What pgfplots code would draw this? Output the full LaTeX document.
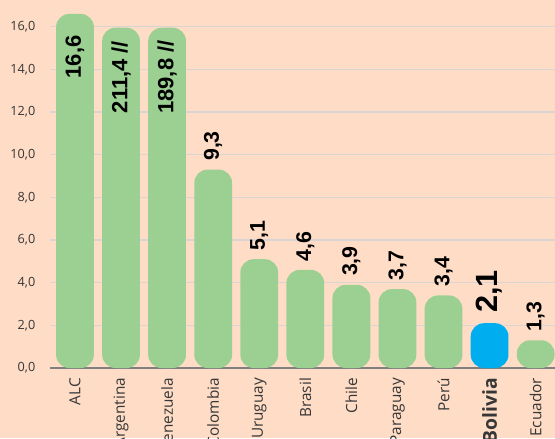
\documentclass[border=0pt]{standalone}
\usepackage{fontspec}
\setmainfont{Open Sans}
\newfontfamily\valfont{Liberation Sans}
\usepackage{pgfplots}
\pgfplotsset{compat=1.18}
\definecolor{bgpeach}{RGB}{254,220,197}
\definecolor{bargreen}{RGB}{155,208,146}
\definecolor{barblue}{RGB}{0,174,239}
\definecolor{gridgray}{RGB}{218,212,210}
\definecolor{axisgray}{RGB}{128,128,128}
\definecolor{txtdark}{RGB}{55,55,55}
\begin{document}
\begin{tikzpicture}
  % 1 px of the reference = 0.75pt
  \useasboundingbox (-37.5pt,-52.5pt) rectangle (378.75pt,276pt);
  \clip (-37.5pt,-52.5pt) rectangle (378.75pt,276pt);
  \fill[bgpeach] (-37.5pt,-52.5pt) rectangle (378.75pt,276pt);
  \begin{axis}[
    at={(0pt,0pt)}, anchor=south west,
    scale only axis,
    width=378.75pt, height=276pt,
    xmin=-0.542, xmax=10.42,
    ymin=0, ymax=17.25,
    ytick={0,2,...,16},
    xtick={0,...,10},
    xticklabels={ALC,Argentina,Venezuela,Colombia,Uruguay,Brasil,Chile,Paraguay,Perú,{\fontsize{14.5}{15}\selectfont\bfseries Bolivia},Ecuador},
    major tick length=0pt,
    ymajorgrids,
    grid style={gridgray, line width=1pt},
    axis x line*=bottom,
    axis y line*=left,
    y axis line style={draw=none},
    x axis line style={draw=axisgray, line width=1.8pt, -},
    /pgf/number format/assume math mode=true,
    yticklabel={\pgfmathprintnumber[fixed,fixed zerofill,precision=1,use comma]{\tick}},
    yticklabel style={font=\fontsize{9.5}{10}\selectfont, text=txtdark, xshift=-7.5pt},
    xticklabel style={font=\fontsize{11.5}{12}\selectfont, text=txtdark, yshift=-4pt, rotate=90, anchor=east},
    clip=true,
  ]
    % bars (Argentina and Venezuela are cut at the top of the scale)
    \addplot[ybar, bar width=0.82, bar shift=0pt, fill=bargreen, draw=none, rounded corners=10pt]
      coordinates {(0,16.6) (1,15.95) (2,15.95) (3,9.3) (4,5.1) (5,4.6) (6,3.9) (7,3.7) (8,3.4) (10,1.3)};
    \addplot[ybar, bar width=0.82, bar shift=0pt, fill=barblue, draw=none, rounded corners=10pt]
      coordinates {(9,2.1)};
    % labels inside the tall bars
    \addplot[draw=none, nodes near coords, point meta=explicit symbolic,
      every node near coord/.append style={rotate=90, anchor=center, inner sep=0pt,
        font=\valfont\bfseries\fontsize{16.5}{17}\selectfont, text=black}]
      coordinates {(0,14.58)[16,6] (1,13.64)[211,4 //] (2,13.64)[189,8 //]};
    % labels above the bars
    \addplot[draw=none, nodes near coords, point meta=explicit symbolic,
      every node near coord/.append style={rotate=90, anchor=west, inner sep=0pt,
        font=\valfont\bfseries\fontsize{16}{17}\selectfont, text=black}]
      coordinates {(3,9.7)[9,3] (4,5.5)[5,1] (5,5.0)[4,6] (6,4.3)[3,9] (7,4.1)[3,7] (8,3.8)[3,4] (10,1.7)[1,3]};
    \addplot[draw=none, nodes near coords, point meta=explicit symbolic,
      every node near coord/.append style={rotate=90, anchor=west, inner sep=0pt,
        font=\valfont\bfseries\fontsize{23}{24}\selectfont, text=black}]
      coordinates {(9,2.57)[2,1]};
  \end{axis}
\end{tikzpicture}
\end{document}
